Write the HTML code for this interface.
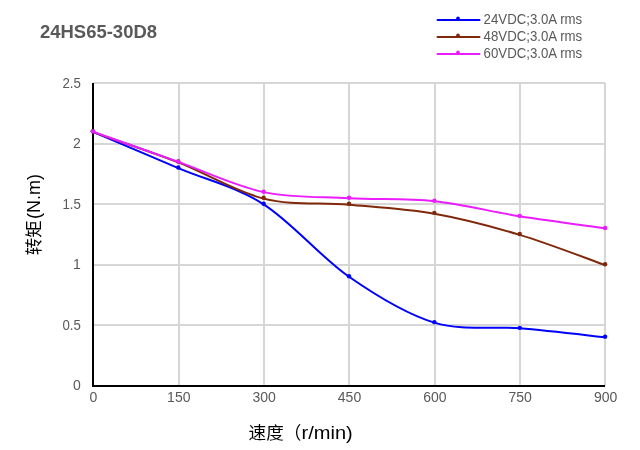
<!DOCTYPE html>
<html><head><meta charset="utf-8"><style>
html,body{margin:0;padding:0;background:#fff;}
body{width:640px;height:450px;overflow:hidden;position:relative;}
svg{position:absolute;left:0;top:0;will-change:transform;}
text{font-family:'Liberation Sans','Noto Sans CJK SC',sans-serif;fill:#595959;}
</style></head><body>
<svg width="640" height="450" viewBox="0 0 640 450">
<rect width="640" height="450" fill="#fff"/>

<g stroke="#d6d6d6" stroke-width="2"><line x1="93.0" y1="325.00" x2="605.0" y2="325.00"/><line x1="93.0" y1="265.00" x2="605.0" y2="265.00"/><line x1="93.0" y1="204.00" x2="605.0" y2="204.00"/><line x1="93.0" y1="144.00" x2="605.0" y2="144.00"/><line x1="93.0" y1="83.00" x2="605.0" y2="83.00"/><line x1="179.00" y1="83.0" x2="179.00" y2="386.0"/><line x1="264.00" y1="83.0" x2="264.00" y2="386.0"/><line x1="349.00" y1="83.0" x2="349.00" y2="386.0"/><line x1="435.00" y1="83.0" x2="435.00" y2="386.0"/><line x1="520.00" y1="83.0" x2="520.00" y2="386.0"/><line x1="605.00" y1="83.0" x2="605.00" y2="386.0"/></g>
<path d="M93.0,83.0 V386.0 H605.0" fill="none" stroke="#000" stroke-width="2"/>
<text x="80.8" y="390.3" text-anchor="end" font-size="14">0</text>
<text x="80.8" y="329.8" text-anchor="end" font-size="14" textLength="18.4" lengthAdjust="spacingAndGlyphs">0.5</text>
<text x="80.8" y="269.3" text-anchor="end" font-size="14">1</text>
<text x="80.8" y="208.8" text-anchor="end" font-size="14" textLength="18.4" lengthAdjust="spacingAndGlyphs">1.5</text>
<text x="80.8" y="148.3" text-anchor="end" font-size="14">2</text>
<text x="80.8" y="87.8" text-anchor="end" font-size="14" textLength="18.4" lengthAdjust="spacingAndGlyphs">2.5</text>
<text x="93.4" y="402" text-anchor="middle" font-size="14">0</text>
<text x="178.8" y="402" text-anchor="middle" font-size="14">150</text>
<text x="264.1" y="402" text-anchor="middle" font-size="14">300</text>
<text x="349.5" y="402" text-anchor="middle" font-size="14">450</text>
<text x="434.9" y="402" text-anchor="middle" font-size="14">600</text>
<text x="520.2" y="402" text-anchor="middle" font-size="14">750</text>
<text x="605.6" y="402" text-anchor="middle" font-size="14">900</text>
<path d="M92.90,131.83 C107.13,137.87 149.81,155.99 178.27,168.07 C206.72,180.14 235.18,186.18 263.63,204.30 C292.09,222.42 320.54,257.04 349.00,276.77 C377.46,296.50 405.91,314.07 434.37,322.66 C462.82,331.26 491.28,325.93 519.73,328.34 C548.19,330.76 590.87,335.69 605.10,337.16" fill="none" stroke="#0000ff" stroke-width="2.0" stroke-linecap="round" stroke-linejoin="round"/>
<circle cx="92.90" cy="131.33" r="2.2" fill="#0000ff"/>
<circle cx="178.27" cy="167.57" r="2.2" fill="#0000ff"/>
<circle cx="263.63" cy="203.80" r="2.2" fill="#0000ff"/>
<circle cx="349.00" cy="276.27" r="2.2" fill="#0000ff"/>
<circle cx="434.37" cy="322.16" r="2.2" fill="#0000ff"/>
<circle cx="519.73" cy="327.84" r="2.2" fill="#0000ff"/>
<circle cx="605.10" cy="336.66" r="2.2" fill="#0000ff"/>
<path d="M92.90,132.18 C107.13,137.21 149.81,151.31 178.27,162.38 C206.72,173.45 235.18,191.57 263.63,198.61 C292.09,205.66 320.54,202.13 349.00,204.65 C377.46,207.17 405.91,208.68 434.37,213.71 C462.82,218.74 491.28,226.29 519.73,234.85 C548.19,243.40 590.87,260.01 605.10,265.04" fill="none" stroke="#80280a" stroke-width="2.0" stroke-linecap="round" stroke-linejoin="round"/>
<circle cx="92.90" cy="131.33" r="2.2" fill="#80280a"/>
<circle cx="178.27" cy="161.53" r="2.2" fill="#80280a"/>
<circle cx="263.63" cy="197.76" r="2.2" fill="#80280a"/>
<circle cx="349.00" cy="203.80" r="2.2" fill="#80280a"/>
<circle cx="434.37" cy="212.86" r="2.2" fill="#80280a"/>
<circle cx="519.73" cy="234.00" r="2.2" fill="#80280a"/>
<circle cx="605.10" cy="264.19" r="2.2" fill="#80280a"/>
<path d="M92.90,131.73 C107.13,136.76 149.81,151.86 178.27,161.93 C206.72,171.99 235.18,186.08 263.63,192.12 C292.09,198.16 320.54,196.65 349.00,198.16 C377.46,199.67 405.91,198.16 434.37,201.18 C462.82,204.20 491.28,211.75 519.73,216.28 C548.19,220.81 590.87,226.34 605.10,228.36" fill="none" stroke="#eb1cff" stroke-width="2.0" stroke-linecap="round" stroke-linejoin="round"/>
<circle cx="92.90" cy="131.33" r="2.2" fill="#eb1cff"/>
<circle cx="178.27" cy="161.53" r="2.2" fill="#eb1cff"/>
<circle cx="263.63" cy="191.72" r="2.2" fill="#eb1cff"/>
<circle cx="349.00" cy="197.76" r="2.2" fill="#eb1cff"/>
<circle cx="434.37" cy="200.78" r="2.2" fill="#eb1cff"/>
<circle cx="519.73" cy="215.88" r="2.2" fill="#eb1cff"/>
<circle cx="605.10" cy="227.96" r="2.2" fill="#eb1cff"/>
<text x="40" y="38" font-size="18" font-weight="bold" textLength="117" lengthAdjust="spacingAndGlyphs">24HS65-30D8</text>
<text x="0" y="0" style="fill:#000" transform="translate(40.2,255.2) rotate(-90)"><tspan font-size="17.4">转矩</tspan><tspan font-size="18" dx="1.4">(N.m)</tspan></text>
<text x="248.6" y="438.5" font-size="17.6" style="fill:#000">速度（</text>
<text x="301.5" y="438.5" font-size="18" style="fill:#000" textLength="51.2" lengthAdjust="spacingAndGlyphs">r/min)</text>
<line x1="437.5" y1="20.0" x2="479.5" y2="20.0" stroke="#0000ff" stroke-width="2" stroke-linecap="round"/>
<circle cx="458" cy="18.3" r="1.8" fill="#0000ff"/>
<text x="483.6" y="23.9" font-size="14.3" textLength="98.6" lengthAdjust="spacingAndGlyphs">24VDC;3.0A rms</text>
<line x1="437.5" y1="37.0" x2="479.5" y2="37.0" stroke="#80280a" stroke-width="2" stroke-linecap="round"/>
<circle cx="458" cy="35.3" r="1.8" fill="#80280a"/>
<text x="483.6" y="40.9" font-size="14.3" textLength="98.6" lengthAdjust="spacingAndGlyphs">48VDC;3.0A rms</text>
<line x1="437.5" y1="54.0" x2="479.5" y2="54.0" stroke="#eb1cff" stroke-width="2" stroke-linecap="round"/>
<circle cx="458" cy="52.3" r="1.8" fill="#eb1cff"/>
<text x="483.6" y="57.9" font-size="14.3" textLength="98.6" lengthAdjust="spacingAndGlyphs">60VDC;3.0A rms</text>
</svg></body></html>
